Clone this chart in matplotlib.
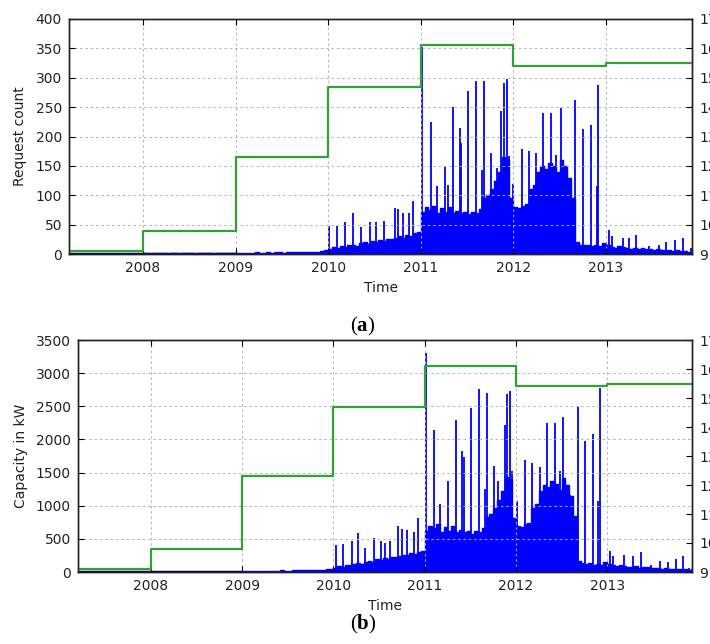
import numpy as np
import matplotlib
matplotlib.use('Agg')
import matplotlib.pyplot as plt

plt.rcParams['font.family'] = 'DejaVu Sans'
plt.rcParams['mathtext.fontset'] = 'custom'
plt.rcParams['mathtext.bf'] = 'Liberation Serif:bold'

blue = '#0000ff'
green = '#33a033'

# yearly level (right axis), step starts at each year
level_years = [2007, 2008, 2009, 2010, 2011, 2012, 2013, 2014]
level_values = [9.1, 9.8, 12.3, 14.7, 16.1, 15.4, 15.5, 15.5]

# dense daily activity, half-month resolution, 2007.0 - 2014.0
req_bulk = [0, 0, 0, 0, 0, 0, 0, 0, 0, 0, 0, 0, 0, 0, 0, 0, 0, 0, 0, 0, 0, 0, 0, 0,
            1, 0, 1, 0, 1, 1, 0, 1, 1, 0, 1, 1, 1, 0, 1, 1, 1, 1, 0, 1, 1, 1, 1, 1,
            1, 2, 1, 2, 2, 3, 2, 2, 3, 2, 3, 3, 2, 3, 3, 4, 3, 3, 4, 3, 4, 4, 5, 6,
            8, 12, 10, 14, 12, 15, 16, 14, 18, 20, 17, 22, 20, 24, 22, 26, 25, 28, 30, 27, 33, 30, 35, 38,
            72, 80, 75, 82, 70, 78, 72, 80, 70, 74, 70, 72, 68, 72, 70, 76, 95, 100, 110, 125, 140, 165, 160, 95,
            80, 78, 82, 85, 110, 118, 140, 150, 145, 155, 150, 140, 160, 150, 130, 95, 20, 16, 15, 16, 14, 15, 14, 18,
            15, 12, 10, 14, 12, 10, 9, 11, 8, 10, 9, 8, 7, 8, 6, 7, 6, 5, 6, 5, 5, 4, 5, 4]
cap_bulk = [0, 0, 0, 0, 0, 0, 0, 0, 0, 0, 0, 0, 0, 0, 0, 0, 0, 0, 0, 0, 0, 0, 0, 0,
            5, 3, 5, 4, 6, 5, 4, 6, 5, 4, 6, 5, 5, 4, 6, 6, 5, 6, 4, 6, 5, 6, 5, 6,
            10, 15, 12, 18, 15, 20, 18, 16, 22, 18, 25, 22, 20, 25, 24, 30, 26, 28, 32, 30, 35, 34, 40, 45,
            60, 90, 80, 110, 100, 120, 130, 125, 150, 170, 150, 190, 180, 210, 200, 230, 220, 240, 260, 250, 280, 270, 300, 320,
            620, 700, 660, 720, 600, 680, 620, 690, 600, 640, 600, 620, 580, 620, 600, 660, 830, 880, 960, 1090, 1220, 1430, 1400, 820,
            700, 680, 720, 740, 960, 1030, 1220, 1320, 1280, 1380, 1330, 1240, 1420, 1320, 1150, 840, 170, 130, 120, 130, 110, 120, 110, 150,
            120, 100, 85, 110, 95, 80, 75, 90, 65, 80, 75, 65, 60, 65, 50, 55, 50, 42, 50, 42, 40, 35, 40, 35]
bulk_years = 2007 + np.arange(len(req_bulk) + 1) / 24.0

# individual peak days
req_spike_years = [2010.01, 2010.1, 2010.18, 2010.27, 2010.35, 2010.45, 2010.52, 2010.6, 2010.72, 2010.75,
                   2010.81, 2010.87, 2010.92,
                   2011.01, 2011.107, 2011.18, 2011.265, 2011.29, 2011.35, 2011.42, 2011.435, 2011.51, 2011.6,
                   2011.66, 2011.685, 2011.76, 2011.82, 2011.87, 2011.9, 2011.935, 2011.95,
                   2012.0, 2012.09, 2012.17, 2012.24, 2012.32, 2012.41, 2012.46, 2012.51, 2012.58, 2012.67,
                   2012.75, 2012.84, 2012.9, 2012.91,
                   2013.03, 2013.07, 2013.18, 2013.25, 2013.32, 2013.47, 2013.57, 2013.65, 2013.75, 2013.83, 2013.92]
req_spikes = [48, 48, 55, 69, 46, 55, 54, 56, 78, 76, 69, 69, 90,
              353, 224, 115, 150, 118, 250, 214, 189, 277, 295, 143, 294, 172, 146, 243, 291, 298, 166,
              120, 178, 176, 172, 240, 240, 169, 248, 125, 262, 212, 219, 115, 288,
              41, 30, 27, 28, 32, 14, 15, 21, 24, 27, 10]

cap_spike_years = [2010.03, 2010.11, 2010.2, 2010.27, 2010.35, 2010.44, 2010.52, 2010.57, 2010.62, 2010.71,
                   2010.75, 2010.81, 2010.88, 2010.93,
                   2011.015, 2011.1, 2011.17, 2011.26, 2011.34, 2011.41, 2011.43, 2011.51, 2011.6, 2011.66,
                   2011.68, 2011.76, 2011.8, 2011.88, 2011.9, 2011.93, 2011.96,
                   2012.01, 2012.1, 2012.18, 2012.26, 2012.34, 2012.43, 2012.48, 2012.52, 2012.59, 2012.68,
                   2012.76, 2012.85, 2012.9, 2012.92,
                   2013.03, 2013.06, 2013.19, 2013.28, 2013.37, 2013.48, 2013.58, 2013.67, 2013.75, 2013.83, 2013.9]
cap_spikes = [400, 415, 470, 585, 360, 520, 465, 430, 465, 700, 650, 640, 610, 820,
              3310, 2145, 1030, 1375, 2300, 1830, 1730, 2475, 2760, 1250, 2700, 1595, 1375, 2225, 2690, 2730, 1530,
              1070, 1690, 1640, 1580, 2250, 2250, 1530, 2340, 1160, 2490, 1975, 2075, 1070, 2770,
              310, 240, 260, 240, 300, 110, 160, 150, 200, 240, 60]

year_ticks = [2008, 2009, 2010, 2011, 2012, 2013]
xmin, xmax = 2007.2, 2013.93


def panel(rect, bulk, spike_x, spike_y, ymax, ystep, ylabel, caption, cap_y):
    ax = fig.add_axes(rect)
    vals = list(bulk) + [bulk[-1]]
    ax.fill_between(bulk_years, 0, vals, step='post', color=blue, lw=0)
    ax.step(bulk_years, vals, where='post', color=blue, lw=1)
    ax.vlines(spike_x, 0, spike_y, color=blue, lw=1.3)
    ax.plot([xmin, 2009], [0, 0], color='#000080', lw=2.5, solid_capstyle='butt')
    ax.set_xlim(xmin, xmax)
    ax.set_ylim(0, ymax)
    ax.set_yticks(np.arange(0, ymax + 1, ystep))
    ax.set_xticks(year_ticks)
    ax.set_xticklabels([str(y) for y in year_ticks])
    ax.grid(True, color='#b4b4b4', ls=(0, (2.5, 3)), lw=0.7)
    ax.set_axisbelow(False)
    ax.tick_params(direction='in', top=True, right=False, length=4, labelsize=10,
                   labelcolor='#222222', pad=5)
    ax.set_xlabel('Time', fontsize=10, color='#222222', labelpad=4)
    ax.set_ylabel(ylabel, fontsize=10, color='#222222', labelpad=6)

    ax2 = ax.twinx()
    ax2.step(level_years, level_values, where='post', color=green, lw=1.6)
    ax2.set_ylim(9, 17)
    ax2.set_yticks(range(9, 18))
    ax2.tick_params(direction='in', length=4, labelsize=10, labelcolor='#222222', pad=5)
    ax2.set_xlim(xmin, xmax)
    for a in (ax, ax2):
        for s in a.spines.values():
            s.set_linewidth(1.0)
            s.set_color('#222222')

    fig.text(363 / 710, cap_y, '(' + r'$\mathbf{' + caption + '}$' + ')', ha='center', va='center',
             fontsize=15, family='Liberation Serif')
    return ax


fig = plt.figure(figsize=(7.1, 6.44), dpi=100)
panel([69 / 710, 1 - 254 / 644, 623 / 710, 235 / 644], req_bulk, req_spike_years, req_spikes,
      400, 50, 'Request count', 'a', 1 - 326 / 644)
panel([78 / 710, 1 - 572 / 644, 614 / 710, 232 / 644], cap_bulk, cap_spike_years, cap_spikes,
      3500, 500, 'Capacity in kW', 'b', 1 - 624 / 644)

plt.savefig('out.png', dpi=100, facecolor='white')
